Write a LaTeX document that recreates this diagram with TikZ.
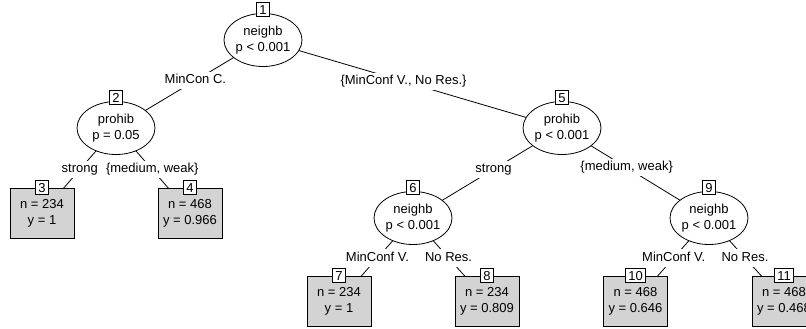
\documentclass[tikz,border=0pt]{standalone}
\usepackage{fontspec}
\setmainfont{Liberation Sans}
\usetikzlibrary{shapes.geometric,backgrounds}
\definecolor{LeafGray}{RGB}{211,211,211}
\tikzset{
  split/.style={ellipse,draw,fill=white,line width=0.8pt,minimum width=78pt,
    minimum height=53pt,inner sep=0pt,align=center,font=\fontsize{13}{15.5}\selectfont},
  leaf/.style={draw,fill=LeafGray,line width=0.8pt,minimum width=64pt,
    minimum height=50pt,inner sep=0pt,align=center,font=\fontsize{13}{16}\selectfont},
  nodeid/.style={draw,fill=white,line width=0.8pt,minimum height=14pt,
    minimum width=13pt,inner xsep=3pt,inner ysep=0pt,font=\fontsize{13}{15}\selectfont},
  edgelabel/.style={fill=white,inner xsep=1pt,inner ysep=2.5pt,text height=9.5pt,
    text depth=3pt,font=\fontsize{13}{15}\selectfont},
  edge/.style={line width=0.8pt}
}

\begin{document}
\begin{tikzpicture}[x=1pt,y=-1pt]
  \useasboundingbox (0,0) rectangle (806,329);
  \clip (0,0) rectangle (806,329);
  % inner nodes
  \node[split] (n1) at (263,40) {neighb\\p < 0.001};
  \node[split] (n2) at (116,128) {prohib\\p = 0.05};
  \node[split] (n5) at (562,128) {prohib\\p < 0.001};
  \node[split] (n6) at (413,218) {neighb\\p < 0.001};
  \node[split] (n9) at (709,218) {neighb\\p < 0.001};
  % terminal nodes
  \node[leaf] (n3) at (42,213) {n = 234\\y = 1};
  \node[leaf] (n4) at (190,213) {n = 468\\y = 0.966};
  \node[leaf] (n7) at (339,301) {n = 234\\y = 1};
  \node[leaf] (n8) at (487,301) {n = 234\\y = 0.809};
  \node[leaf] (n10) at (635.5,301) {n = 468\\y = 0.646};
  \node[leaf] (n11) at (784,301) {n = 468\\y = 0.468};
  % node numbers
  \node[nodeid] (t1) at ([yshift=3.5pt]n1.north) {1};
  \node[nodeid] (t2) at ([yshift=3.5pt]n2.north) {2};
  \node[nodeid] (t5) at ([yshift=3.5pt]n5.north) {5};
  \node[nodeid] (t6) at ([yshift=3.5pt]n6.north) {6};
  \node[nodeid] (t9) at ([yshift=3.5pt]n9.north) {9};
  \node[nodeid] (t3) at (n3.north) {3};
  \node[nodeid] (t4) at (n4.north) {4};
  \node[nodeid] (t7) at (n7.north) {7};
  \node[nodeid] (t8) at (n8.north) {8};
  \node[nodeid] (t10) at (n10.north) {10};
  \node[nodeid] (t11) at (n11.north) {11};
  % edges and split labels
  \begin{scope}[on background layer]
    \draw[edge] (n1.center) -- node[edgelabel,pos=0.46] (e2) {MinCon C.} (n2.center);
    \draw[edge] (n1.center) -- node[edgelabel,pos=0.47] (e5) {\{MinConf V., No Res.\}} (n5.center);
    \draw[edge] (n2.center) -- node[edgelabel,pos=0.49] (e3) {strong} (n3.center);
    \draw[edge] (n2.center) -- node[edgelabel,pos=0.49] (e4) {\{medium, weak\}} (n4.center);
    \draw[edge] (n5.center) -- node[edgelabel,pos=0.46] (e6) {strong} (n6.center);
    \draw[edge] (n5.center) -- node[edgelabel,pos=0.44] (e9) {\{medium, weak\}} (n9.center);
    \draw[edge] (n6.center) -- node[edgelabel,pos=0.48] (e7) {MinConf V.} (n7.center);
    \draw[edge] (n6.center) -- node[edgelabel,pos=0.48] (e8) {No Res.} (n8.center);
    \draw[edge] (n9.center) -- node[edgelabel,pos=0.48] (e10) {MinConf V.} (n10.center);
    \draw[edge] (n9.center) -- node[edgelabel,pos=0.48] (e11) {No Res.} (n11.center);
  \end{scope}
\end{tikzpicture}
\end{document}
